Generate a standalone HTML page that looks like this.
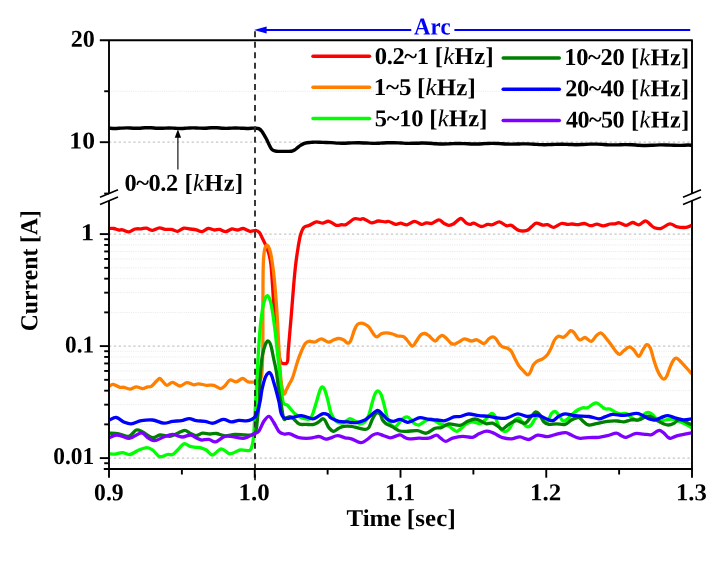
<!DOCTYPE html>
<html lang="en">
<head>
<meta charset="utf-8">
<title>Current vs Time</title>
<style>
html,body{margin:0;padding:0;background:#fff;}
body{width:727px;height:561px;overflow:hidden;}
svg{display:block;}
</style>
</head>
<body>
<svg width="727" height="561" viewBox="0 0 727 561">
<rect width="727" height="561" fill="#fff"/>
<g stroke="#e9e9e9" stroke-width="1" stroke-dasharray="1.1 1.1" fill="none">
<path d="M109.0,312.38H692.0"/>
<path d="M109.0,292.66H692.0"/>
<path d="M109.0,278.67H692.0"/>
<path d="M109.0,267.82H692.0"/>
<path d="M109.0,258.95H692.0"/>
<path d="M109.0,251.45H692.0"/>
<path d="M109.0,244.95H692.0"/>
<path d="M109.0,239.22H692.0"/>
<path d="M109.0,424.38H692.0"/>
<path d="M109.0,404.66H692.0"/>
<path d="M109.0,390.67H692.0"/>
<path d="M109.0,379.82H692.0"/>
<path d="M109.0,370.95H692.0"/>
<path d="M109.0,363.45H692.0"/>
<path d="M109.0,356.95H692.0"/>
<path d="M109.0,351.22H692.0"/>
<path d="M109.0,463.22H692.0"/>
<path d="M109.0,91.25H692.0"/>
</g>
<g stroke="#c6c6c6" stroke-width="1.3" stroke-dasharray="2.3 2.56" fill="none">
<path d="M109.0,142.20H692.0"/>
<path d="M109.0,234.10H692.0"/>
<path d="M109.0,346.10H692.0"/>
<path d="M109.0,458.10H692.0"/>
</g>
<g fill="none" stroke-linejoin="round" stroke-linecap="butt">
<path d="M109.00,128.23C110.00,128.27 113.00,128.51 115.00,128.50C117.00,128.49 119.00,128.25 121.00,128.16C123.00,128.06 125.00,127.91 127.00,127.92C129.00,127.92 131.00,128.14 133.00,128.19C135.00,128.23 137.00,128.25 139.00,128.19C141.00,128.12 143.00,127.84 145.00,127.78C147.00,127.71 149.00,127.73 151.00,127.81C153.00,127.89 155.00,128.18 157.00,128.25C159.00,128.31 161.00,128.26 163.00,128.22C165.00,128.17 167.00,127.96 169.00,127.96C171.00,127.96 173.00,128.12 175.00,128.21C177.00,128.30 179.00,128.50 181.00,128.49C183.00,128.48 185.00,128.27 187.00,128.16C189.00,128.06 191.00,127.87 193.00,127.86C195.00,127.85 197.00,128.05 199.00,128.11C201.00,128.16 203.00,128.23 205.00,128.18C207.00,128.13 209.00,127.87 211.00,127.81C213.00,127.75 215.00,127.74 217.00,127.81C219.00,127.89 221.00,128.19 223.00,128.27C225.00,128.35 227.00,128.34 229.00,128.30C231.00,128.25 233.00,128.02 235.00,128.00C237.00,127.98 239.00,128.10 241.00,128.18C243.00,128.25 245.00,128.47 247.00,128.46C249.00,128.46 251.67,128.20 253.00,128.16C254.33,128.11 254.03,128.13 255.00,128.20C255.97,128.27 257.63,128.05 258.80,128.60C259.97,129.15 260.75,129.80 262.00,131.50C263.25,133.20 265.13,136.62 266.30,138.80C267.47,140.98 268.17,142.93 269.00,144.60C269.83,146.27 270.53,147.80 271.30,148.80C272.07,149.80 272.77,150.18 273.60,150.60C274.43,151.02 275.23,151.17 276.30,151.30C277.37,151.43 278.38,151.38 280.00,151.40C281.62,151.42 284.12,151.42 286.00,151.40C287.88,151.38 289.88,151.53 291.30,151.30C292.72,151.07 293.45,150.62 294.50,150.00C295.55,149.38 296.60,148.37 297.60,147.60C298.60,146.83 299.47,146.07 300.50,145.40C301.53,144.73 302.72,144.05 303.80,143.60C304.88,143.15 305.80,142.90 307.00,142.70C308.20,142.50 309.67,142.50 311.00,142.40C312.33,142.30 313.00,142.10 315.00,142.10C317.00,142.10 320.33,142.32 323.00,142.40C325.67,142.48 328.50,142.48 331.00,142.60C333.50,142.72 335.67,143.04 338.00,143.14C340.33,143.24 342.67,143.23 345.00,143.19C347.33,143.15 349.67,142.96 352.00,142.90C354.33,142.83 356.67,142.76 359.00,142.79C361.33,142.82 363.67,142.98 366.00,143.07C368.33,143.16 370.67,143.32 373.00,143.33C375.33,143.35 377.67,143.25 380.00,143.16C382.33,143.07 384.67,142.84 387.00,142.77C389.33,142.69 391.67,142.66 394.00,142.71C396.33,142.76 398.67,142.96 401.00,143.07C403.33,143.18 405.67,143.34 408.00,143.38C410.33,143.41 412.67,143.33 415.00,143.28C417.33,143.23 419.67,143.08 422.00,143.07C424.33,143.06 426.67,143.12 429.00,143.23C431.33,143.33 433.67,143.59 436.00,143.71C438.33,143.84 440.67,143.97 443.00,143.99C445.33,144.00 447.67,143.87 450.00,143.79C452.33,143.71 454.67,143.54 457.00,143.51C459.33,143.47 461.67,143.53 464.00,143.60C466.33,143.67 468.67,143.86 471.00,143.93C473.33,143.99 475.67,144.03 478.00,143.99C480.33,143.94 482.67,143.75 485.00,143.65C487.33,143.55 489.67,143.39 492.00,143.38C494.33,143.37 496.67,143.48 499.00,143.58C501.33,143.69 503.67,143.92 506.00,144.01C508.33,144.11 510.67,144.15 513.00,144.14C515.33,144.13 517.67,143.97 520.00,143.93C522.33,143.88 524.67,143.81 527.00,143.86C529.33,143.92 531.67,144.10 534.00,144.23C536.33,144.36 538.67,144.59 541.00,144.66C543.33,144.73 545.67,144.72 548.00,144.67C550.33,144.61 552.67,144.41 555.00,144.33C557.33,144.25 559.67,144.17 562.00,144.19C564.33,144.21 566.67,144.36 569.00,144.45C571.33,144.53 573.67,144.68 576.00,144.70C578.33,144.71 580.67,144.62 583.00,144.54C585.33,144.45 587.67,144.24 590.00,144.17C592.33,144.11 594.67,144.09 597.00,144.15C599.33,144.21 601.67,144.43 604.00,144.56C606.33,144.68 608.67,144.86 611.00,144.90C613.33,144.95 615.67,144.88 618.00,144.83C620.33,144.78 622.67,144.63 625.00,144.62C627.33,144.62 629.67,144.67 632.00,144.77C634.33,144.87 636.67,145.11 639.00,145.23C641.33,145.35 643.67,145.47 646.00,145.46C648.33,145.46 650.67,145.32 653.00,145.23C655.33,145.13 657.67,144.95 660.00,144.90C662.33,144.86 664.67,144.91 667.00,144.97C669.33,145.04 671.67,145.23 674.00,145.29C676.33,145.36 678.67,145.40 681.00,145.36C683.33,145.32 686.17,145.06 688.00,145.05C689.83,145.04 691.33,145.26 692.00,145.30" stroke="#000" stroke-width="3.4"/>
<path d="M109.40,228.50C110.13,228.50 112.23,228.25 113.80,228.50C115.37,228.75 117.35,229.78 118.80,230.00C120.25,230.22 120.83,229.48 122.50,229.80C124.17,230.12 126.72,232.03 128.80,231.90C130.88,231.77 132.92,229.52 135.00,229.00C137.08,228.48 139.42,228.93 141.30,228.80C143.18,228.67 144.42,227.95 146.30,228.20C148.18,228.45 150.42,230.37 152.60,230.30C154.78,230.23 157.32,227.95 159.40,227.80C161.48,227.65 163.12,229.13 165.10,229.40C167.08,229.67 169.22,229.08 171.30,229.40C173.38,229.72 175.50,231.50 177.60,231.30C179.70,231.10 181.82,228.58 183.90,228.20C185.98,227.82 188.03,228.73 190.10,229.00C192.17,229.27 194.33,229.37 196.30,229.80C198.27,230.23 199.92,231.82 201.90,231.60C203.88,231.38 206.12,228.77 208.20,228.50C210.28,228.23 212.53,229.85 214.40,230.00C216.27,230.15 217.52,229.13 219.40,229.40C221.28,229.67 223.62,231.67 225.70,231.60C227.78,231.53 229.92,229.27 231.90,229.00C233.88,228.73 235.72,230.08 237.60,230.00C239.48,229.92 241.12,228.28 243.20,228.50C245.28,228.72 248.02,231.00 250.10,231.30C252.18,231.60 254.13,230.08 255.70,230.30C257.27,230.52 258.35,231.18 259.50,232.60C260.65,234.02 261.57,236.72 262.60,238.80C263.63,240.88 264.65,242.60 265.70,245.10C266.75,247.60 268.02,250.48 268.90,253.80C269.78,257.12 270.40,259.80 271.00,265.00C271.60,270.20 272.03,278.33 272.50,285.00C272.97,291.67 273.22,297.50 273.80,305.00C274.38,312.50 275.22,322.17 276.00,330.00C276.78,337.83 277.75,346.75 278.50,352.00C279.25,357.25 279.83,359.62 280.50,361.50C281.17,363.38 281.50,363.00 282.50,363.30C283.50,363.60 285.62,363.85 286.50,363.30C287.38,362.75 287.50,362.22 287.80,360.00C288.10,357.78 287.75,357.08 288.30,350.00C288.85,342.92 290.20,328.33 291.10,317.50C292.00,306.67 292.95,293.73 293.70,285.00C294.45,276.27 294.87,271.35 295.60,265.10C296.33,258.85 297.28,252.52 298.10,247.50C298.92,242.48 299.55,238.33 300.50,235.00C301.45,231.67 302.42,229.07 303.80,227.50C305.18,225.93 306.72,226.53 308.80,225.60C310.88,224.67 314.00,222.32 316.30,221.90C318.60,221.48 320.52,223.20 322.60,223.10C324.68,223.00 326.52,220.93 328.80,221.30C331.08,221.67 334.22,224.73 336.30,225.30C338.38,225.87 339.63,224.85 341.30,224.70C342.97,224.55 344.12,225.38 346.30,224.40C348.48,223.42 352.12,219.63 354.40,218.80C356.68,217.97 358.43,219.40 360.00,219.40C361.57,219.40 361.92,218.23 363.80,218.80C365.68,219.37 368.90,222.43 371.30,222.80C373.70,223.17 375.90,221.15 378.20,221.00C380.50,220.85 383.33,221.82 385.10,221.90C386.87,221.98 387.03,221.08 388.80,221.50C390.57,221.92 393.72,224.12 395.70,224.40C397.68,224.68 398.82,223.13 400.70,223.20C402.58,223.27 404.72,225.12 407.00,224.80C409.28,224.48 412.02,221.37 414.40,221.30C416.78,221.23 419.32,224.15 421.30,224.40C423.28,224.65 424.53,222.97 426.30,222.80C428.07,222.63 429.82,223.90 431.90,223.40C433.98,222.90 436.82,219.83 438.80,219.80C440.78,219.77 442.13,222.27 443.80,223.20C445.47,224.13 447.13,225.30 448.80,225.40C450.47,225.50 451.82,224.95 453.80,223.80C455.78,222.65 458.62,218.60 460.70,218.50C462.78,218.40 464.73,222.22 466.30,223.20C467.87,224.18 468.85,224.40 470.10,224.40C471.35,224.40 471.93,222.85 473.80,223.20C475.67,223.55 479.00,226.30 481.30,226.50C483.60,226.70 485.72,224.70 487.60,224.40C489.48,224.10 490.63,225.12 492.60,224.70C494.57,224.28 497.12,221.73 499.40,221.90C501.68,222.07 504.32,225.12 506.30,225.70C508.28,226.28 509.22,224.62 511.30,225.40C513.38,226.18 516.20,229.57 518.80,230.40C521.40,231.23 524.82,230.98 526.90,230.40C528.98,229.82 529.73,228.10 531.30,226.90C532.87,225.70 534.42,223.52 536.30,223.20C538.18,222.88 540.72,224.75 542.60,225.00C544.48,225.25 545.73,224.32 547.60,224.70C549.47,225.08 551.52,227.50 553.80,227.30C556.08,227.10 559.00,223.98 561.30,223.50C563.60,223.02 565.72,224.32 567.60,224.40C569.48,224.48 570.93,223.95 572.60,224.00C574.27,224.05 575.63,224.78 577.60,224.70C579.57,224.62 582.23,223.33 584.40,223.50C586.57,223.67 588.52,225.58 590.60,225.70C592.68,225.82 594.80,224.17 596.90,224.20C599.00,224.23 601.02,225.93 603.20,225.90C605.38,225.87 608.03,224.35 610.00,224.00C611.97,223.65 613.43,224.00 615.00,223.80C616.57,223.60 617.52,222.55 619.40,222.80C621.28,223.05 624.10,225.35 626.30,225.30C628.50,225.25 630.52,222.58 632.60,222.50C634.68,222.42 636.65,225.08 638.80,224.80C640.95,224.52 643.62,220.87 645.50,220.80C647.38,220.73 648.60,223.23 650.10,224.40C651.60,225.57 652.65,227.13 654.50,227.80C656.35,228.47 658.65,229.07 661.20,228.40C663.75,227.73 667.12,224.05 669.80,223.80C672.48,223.55 674.58,226.32 677.30,226.90C680.02,227.48 683.70,227.57 686.10,227.30C688.50,227.03 690.77,225.63 691.70,225.30" stroke="#ff0000" stroke-width="3.3"/>
<path d="M109.40,386.30C110.02,385.98 111.33,384.23 113.10,384.40C114.87,384.57 118.22,386.82 120.00,387.30C121.78,387.78 122.13,387.00 123.80,387.30C125.47,387.60 127.92,389.17 130.00,389.10C132.08,389.03 134.20,386.98 136.30,386.90C138.40,386.82 140.72,388.60 142.60,388.60C144.48,388.60 146.15,387.28 147.60,386.90C149.05,386.52 149.85,387.23 151.30,386.30C152.75,385.37 154.88,382.60 156.30,381.30C157.72,380.00 158.65,378.40 159.80,378.50C160.95,378.60 162.00,380.77 163.20,381.90C164.40,383.03 165.43,385.23 167.00,385.30C168.57,385.37 170.42,382.18 172.60,382.30C174.78,382.42 177.72,385.95 180.10,386.00C182.48,386.05 184.62,382.80 186.90,382.60C189.18,382.40 191.82,384.60 193.80,384.80C195.78,385.00 196.72,383.72 198.80,383.80C200.88,383.88 203.80,385.05 206.30,385.30C208.80,385.55 211.40,384.75 213.80,385.30C216.20,385.85 218.83,388.53 220.70,388.60C222.57,388.67 223.45,387.13 225.00,385.70C226.55,384.27 228.12,380.63 230.00,380.00C231.88,379.37 234.20,382.15 236.30,381.90C238.40,381.65 240.62,378.50 242.60,378.50C244.58,378.50 246.22,381.32 248.20,381.90C250.18,382.48 252.65,382.15 254.50,382.00C256.35,381.85 258.08,382.33 259.30,381.00C260.52,379.67 261.22,379.17 261.80,374.00C262.38,368.83 262.62,359.00 262.80,350.00C262.98,341.00 262.87,330.83 262.90,320.00C262.93,309.17 262.93,294.33 263.00,285.00C263.07,275.67 263.10,269.50 263.30,264.00C263.50,258.50 263.83,254.87 264.20,252.00C264.57,249.13 264.98,247.93 265.50,246.80C266.02,245.67 266.63,244.83 267.30,245.20C267.97,245.57 268.83,247.15 269.50,249.00C270.17,250.85 270.72,253.13 271.30,256.30C271.88,259.47 272.48,264.05 273.00,268.00C273.52,271.95 273.75,272.78 274.40,280.00C275.05,287.22 276.13,299.63 276.90,311.30C277.67,322.97 278.32,338.55 279.00,350.00C279.68,361.45 280.20,372.70 281.00,380.00C281.80,387.30 282.88,392.22 283.80,393.80C284.72,395.38 285.67,390.97 286.50,389.50C287.33,388.03 287.78,386.98 288.80,385.00C289.82,383.02 291.13,381.55 292.60,377.60C294.07,373.65 296.15,365.65 297.60,361.30C299.05,356.95 300.05,354.42 301.30,351.50C302.55,348.58 303.85,345.50 305.10,343.80C306.35,342.10 307.13,341.60 308.80,341.30C310.47,341.00 313.00,342.42 315.10,342.00C317.20,341.58 319.17,338.77 321.40,338.80C323.63,338.83 326.43,342.03 328.50,342.20C330.57,342.37 332.08,340.42 333.80,339.80C335.52,339.18 337.13,338.47 338.80,338.50C340.47,338.53 342.35,339.22 343.80,340.00C345.25,340.78 346.35,343.08 347.50,343.20C348.65,343.32 349.55,342.90 350.70,340.70C351.85,338.50 353.27,332.72 354.40,330.00C355.53,327.28 356.35,325.55 357.50,324.40C358.65,323.25 360.03,323.10 361.30,323.10C362.57,323.10 363.85,323.77 365.10,324.40C366.35,325.03 367.35,325.23 368.80,326.90C370.25,328.57 372.43,332.73 373.80,334.40C375.17,336.07 375.75,337.00 377.00,336.90C378.25,336.80 379.75,334.47 381.30,333.80C382.85,333.13 384.42,332.87 386.30,332.90C388.18,332.93 390.72,333.48 392.60,334.00C394.48,334.52 395.83,335.58 397.60,336.00C399.37,336.42 401.63,335.83 403.20,336.50C404.77,337.17 405.50,338.38 407.00,340.00C408.50,341.62 410.65,345.98 412.20,346.20C413.75,346.42 414.90,343.17 416.30,341.30C417.70,339.43 419.18,336.30 420.60,335.00C422.02,333.70 423.43,333.38 424.80,333.50C426.17,333.62 427.10,334.45 428.80,335.70C430.50,336.95 433.33,340.70 435.00,341.00C436.67,341.30 437.58,338.45 438.80,337.50C440.02,336.55 441.05,335.18 442.30,335.30C443.55,335.42 444.80,336.83 446.30,338.20C447.80,339.57 449.83,342.53 451.30,343.50C452.77,344.47 453.63,344.37 455.10,344.00C456.57,343.63 458.53,342.17 460.10,341.30C461.67,340.43 462.63,338.85 464.50,338.80C466.37,338.75 469.22,340.83 471.30,341.00C473.38,341.17 474.90,339.38 477.00,339.80C479.10,340.22 481.92,343.67 483.90,343.50C485.88,343.33 487.45,339.90 488.90,338.80C490.35,337.70 491.42,336.90 492.60,336.90C493.78,336.90 494.97,337.75 496.00,338.80C497.03,339.85 497.72,341.85 498.80,343.20C499.88,344.55 501.05,346.07 502.50,346.90C503.95,347.73 506.03,347.47 507.50,348.20C508.97,348.93 510.05,349.53 511.30,351.30C512.55,353.07 513.75,356.40 515.00,358.80C516.25,361.20 517.33,363.62 518.80,365.70C520.27,367.78 522.30,369.78 523.80,371.30C525.30,372.82 526.65,374.80 527.80,374.80C528.95,374.80 529.80,372.92 530.70,371.30C531.60,369.68 532.17,366.77 533.20,365.10C534.23,363.43 535.33,362.35 536.90,361.30C538.47,360.25 540.82,359.95 542.60,358.80C544.38,357.65 546.15,356.27 547.60,354.40C549.05,352.53 550.15,350.00 551.30,347.60C552.45,345.20 553.35,341.88 554.50,340.00C555.65,338.12 556.75,336.75 558.20,336.30C559.65,335.85 561.73,337.62 563.20,337.30C564.67,336.98 565.75,335.50 567.00,334.40C568.25,333.30 569.55,331.02 570.70,330.70C571.85,330.38 572.43,330.98 573.90,332.50C575.37,334.02 577.65,338.97 579.50,339.80C581.35,340.63 583.03,337.25 585.00,337.50C586.97,337.75 589.42,341.60 591.30,341.30C593.18,341.00 594.73,337.10 596.30,335.70C597.87,334.30 599.25,332.70 600.70,332.90C602.15,333.10 603.23,334.88 605.00,336.90C606.77,338.92 609.42,342.50 611.30,345.00C613.18,347.50 614.88,350.33 616.30,351.90C617.72,353.47 618.55,354.60 619.80,354.40C621.05,354.20 622.20,351.95 623.80,350.70C625.40,349.45 627.73,347.02 629.40,346.90C631.07,346.78 632.23,348.43 633.80,350.00C635.37,351.57 637.30,356.30 638.80,356.30C640.30,356.30 641.50,351.95 642.80,350.00C644.10,348.05 645.35,344.93 646.60,344.60C647.85,344.27 649.15,345.63 650.30,348.00C651.45,350.37 652.33,355.13 653.50,358.80C654.67,362.47 656.05,366.98 657.30,370.00C658.55,373.02 659.92,375.38 661.00,376.90C662.08,378.42 662.85,379.20 663.80,379.10C664.75,379.00 665.60,378.43 666.70,376.30C667.80,374.17 669.25,369.02 670.40,366.30C671.55,363.58 672.62,361.35 673.60,360.00C674.58,358.65 675.27,358.08 676.30,358.20C677.33,358.32 678.17,359.15 679.80,360.70C681.43,362.25 684.12,365.32 686.10,367.50C688.08,369.68 690.77,372.75 691.70,373.80" stroke="#ff8000" stroke-width="3.3"/>
<path d="M109.40,453.80C110.33,453.85 112.82,454.30 115.00,454.10C117.18,453.90 120.00,452.53 122.50,452.60C125.00,452.67 127.28,454.93 130.00,454.50C132.72,454.07 135.97,451.15 138.80,450.00C141.63,448.85 144.70,447.60 147.00,447.60C149.30,447.60 150.63,448.55 152.60,450.00C154.57,451.45 157.13,455.25 158.80,456.30C160.47,457.35 161.13,456.60 162.60,456.30C164.07,456.00 165.93,454.80 167.60,454.50C169.27,454.20 170.93,455.25 172.60,454.50C174.27,453.75 175.72,451.78 177.60,450.00C179.48,448.22 181.82,444.42 183.90,443.80C185.98,443.18 188.08,445.70 190.10,446.30C192.12,446.90 194.35,447.18 196.00,447.40C197.65,447.62 198.28,447.17 200.00,447.60C201.72,448.03 204.22,448.77 206.30,450.00C208.38,451.23 210.00,455.20 212.50,455.00C215.00,454.80 218.38,449.00 221.30,448.80C224.22,448.60 226.88,453.60 230.00,453.80C233.12,454.00 236.87,450.52 240.00,450.00C243.13,449.48 246.93,450.95 248.80,450.70C250.67,450.45 250.52,449.95 251.20,448.50C251.88,447.05 252.43,444.92 252.90,442.00C253.37,439.08 253.53,437.83 254.00,431.00C254.47,424.17 255.13,411.17 255.70,401.00C256.27,390.83 256.82,380.17 257.40,370.00C257.98,359.83 258.60,348.33 259.20,340.00C259.80,331.67 260.23,326.20 261.00,320.00C261.77,313.80 262.72,306.87 263.80,302.80C264.88,298.73 266.25,295.23 267.50,295.60C268.75,295.97 270.05,299.27 271.30,305.00C272.55,310.73 274.12,323.33 275.00,330.00C275.88,336.67 275.87,338.33 276.60,345.00C277.33,351.67 278.35,360.67 279.40,370.00C280.45,379.33 281.53,395.12 282.90,401.00C284.27,406.88 285.58,403.17 287.60,405.30C289.62,407.43 292.50,411.65 295.00,413.80C297.50,415.95 300.10,417.37 302.60,418.20C305.10,419.03 308.23,419.75 310.00,418.80C311.77,417.85 312.03,415.63 313.20,412.50C314.37,409.37 315.90,403.67 317.00,400.00C318.10,396.33 318.93,392.68 319.80,390.50C320.67,388.32 321.40,387.07 322.20,386.90C323.00,386.73 323.72,387.52 324.60,389.50C325.48,391.48 326.38,394.75 327.50,398.80C328.62,402.85 329.83,410.05 331.30,413.80C332.77,417.55 334.63,419.73 336.30,421.30C337.97,422.87 339.68,423.25 341.30,423.20C342.92,423.15 344.55,421.77 346.00,421.00C347.45,420.23 348.50,418.60 350.00,418.60C351.50,418.60 353.33,420.13 355.00,421.00C356.67,421.87 358.33,423.65 360.00,423.80C361.67,423.95 363.53,423.37 365.00,421.90C366.47,420.43 367.53,418.43 368.80,415.00C370.07,411.57 371.55,404.83 372.60,401.30C373.65,397.77 374.17,395.52 375.10,393.80C376.03,392.08 377.17,390.80 378.20,391.00C379.23,391.20 380.25,392.45 381.30,395.00C382.35,397.55 383.45,402.33 384.50,406.30C385.55,410.27 386.47,415.68 387.60,418.80C388.73,421.92 390.05,423.65 391.30,425.00C392.55,426.35 393.83,427.20 395.10,426.90C396.37,426.60 397.65,424.55 398.90,423.20C400.15,421.85 401.25,419.85 402.60,418.80C403.95,417.75 405.60,416.78 407.00,416.90C408.40,417.02 409.87,418.45 411.00,419.50C412.13,420.55 412.50,422.28 413.80,423.20C415.10,424.12 417.13,425.22 418.80,425.00C420.47,424.78 421.77,422.90 423.80,421.90C425.83,420.90 428.50,418.78 431.00,419.00C433.50,419.22 436.67,422.20 438.80,423.20C440.93,424.20 442.18,424.53 443.80,425.00C445.42,425.47 446.93,425.27 448.50,426.00C450.07,426.73 451.80,428.52 453.20,429.40C454.60,430.28 455.55,431.50 456.90,431.30C458.25,431.10 459.78,429.42 461.30,428.20C462.82,426.98 464.12,425.05 466.00,424.00C467.88,422.95 470.25,421.97 472.60,421.90C474.95,421.83 478.02,423.92 480.10,423.60C482.18,423.28 483.22,421.68 485.10,420.00C486.98,418.32 489.73,414.12 491.40,413.50C493.07,412.88 493.87,414.17 495.10,416.30C496.33,418.43 497.25,423.80 498.80,426.30C500.35,428.80 502.73,430.78 504.40,431.30C506.07,431.82 507.23,431.07 508.80,429.40C510.37,427.73 512.13,423.17 513.80,421.30C515.47,419.43 517.13,417.78 518.80,418.20C520.47,418.62 522.35,422.35 523.80,423.80C525.25,425.25 526.25,426.70 527.50,426.90C528.75,427.10 530.03,426.35 531.30,425.00C532.57,423.65 533.82,420.30 535.10,418.80C536.38,417.30 537.68,415.97 539.00,416.00C540.32,416.03 541.57,418.12 543.00,419.00C544.43,419.88 546.22,422.17 547.60,421.30C548.98,420.43 550.05,415.43 551.30,413.80C552.55,412.17 553.85,411.30 555.10,411.50C556.35,411.70 557.55,413.47 558.80,415.00C560.05,416.53 561.35,419.87 562.60,420.70C563.85,421.53 564.82,420.95 566.30,420.00C567.78,419.05 569.62,416.67 571.50,415.00C573.38,413.33 575.75,411.20 577.60,410.00C579.45,408.80 580.95,408.17 582.60,407.80C584.25,407.43 585.85,408.37 587.50,407.80C589.15,407.23 591.03,405.22 592.50,404.40C593.97,403.58 595.05,402.80 596.30,402.90C597.55,403.00 598.55,404.02 600.00,405.00C601.45,405.98 603.33,408.13 605.00,408.80C606.67,409.47 608.33,408.48 610.00,409.00C611.67,409.52 613.33,411.10 615.00,411.90C616.67,412.70 618.12,413.53 620.00,413.80C621.88,414.07 624.42,412.88 626.30,413.50C628.18,414.12 629.42,416.42 631.30,417.50C633.18,418.58 635.57,420.45 637.60,420.00C639.63,419.55 641.78,416.07 643.50,414.80C645.22,413.53 646.43,412.47 647.90,412.40C649.37,412.33 650.88,413.33 652.30,414.40C653.72,415.47 654.68,417.78 656.40,418.80C658.12,419.82 660.17,420.47 662.60,420.50C665.03,420.53 668.43,418.92 671.00,419.00C673.57,419.08 675.48,420.10 678.00,421.00C680.52,421.90 683.82,423.30 686.10,424.40C688.38,425.50 690.77,427.07 691.70,427.60" stroke="#00ff00" stroke-width="3.3"/>
<path d="M255,31.2V480.5" stroke="#303030" stroke-width="1.9" stroke-dasharray="6 4.55"/>
<path d="M109.40,433.20C110.97,433.30 115.57,433.28 118.80,433.80C122.03,434.32 125.88,436.93 128.80,436.30C131.72,435.67 134.00,430.72 136.30,430.00C138.60,429.28 139.88,430.73 142.60,432.00C145.32,433.27 149.70,437.10 152.60,437.60C155.50,438.10 157.10,435.22 160.00,435.00C162.90,434.78 167.07,436.60 170.00,436.30C172.93,436.00 175.15,434.20 177.60,433.20C180.05,432.20 182.63,430.30 184.70,430.30C186.77,430.30 188.12,432.30 190.00,433.20C191.88,434.10 193.92,435.70 196.00,435.70C198.08,435.70 200.17,433.48 202.50,433.20C204.83,432.92 207.70,433.95 210.00,434.00C212.30,434.05 213.80,433.20 216.30,433.50C218.80,433.80 221.88,435.65 225.00,435.80C228.12,435.95 231.67,434.53 235.00,434.40C238.33,434.27 242.17,434.93 245.00,435.00C247.83,435.07 250.33,435.10 252.00,434.80C253.67,434.50 254.25,434.33 255.00,433.20C255.75,432.07 256.08,430.53 256.50,428.00C256.92,425.47 257.08,421.83 257.50,418.00C257.92,414.17 258.63,409.67 259.00,405.00C259.37,400.33 259.48,395.00 259.70,390.00C259.92,385.00 259.87,380.67 260.30,375.00C260.73,369.33 261.48,361.03 262.30,356.00C263.12,350.97 264.22,347.30 265.20,344.80C266.18,342.30 267.23,340.80 268.20,341.00C269.17,341.20 270.12,343.17 271.00,346.00C271.88,348.83 272.62,353.78 273.50,358.00C274.38,362.22 275.38,365.63 276.30,371.30C277.22,376.97 278.17,386.38 279.00,392.00C279.83,397.62 280.50,400.53 281.30,405.00C282.10,409.47 282.85,416.70 283.80,418.80C284.75,420.90 285.75,417.92 287.00,417.60C288.25,417.28 289.33,415.87 291.30,416.90C293.27,417.93 296.30,422.55 298.80,423.80C301.30,425.05 303.80,424.30 306.30,424.40C308.80,424.50 311.77,424.80 313.80,424.40C315.83,424.00 317.03,422.93 318.50,422.00C319.97,421.07 321.48,419.03 322.60,418.80C323.72,418.57 324.17,419.13 325.20,420.60C326.23,422.07 327.37,425.82 328.80,427.60C330.23,429.38 332.13,431.20 333.80,431.30C335.47,431.40 337.13,429.03 338.80,428.20C340.47,427.37 341.72,426.62 343.80,426.30C345.88,425.98 348.80,425.98 351.30,426.30C353.80,426.62 356.52,427.68 358.80,428.20C361.08,428.72 363.33,429.50 365.00,429.40C366.67,429.30 367.53,429.37 368.80,427.60C370.07,425.83 371.35,421.20 372.60,418.80C373.85,416.40 375.07,414.03 376.30,413.20C377.53,412.37 378.95,412.67 380.00,413.80C381.05,414.93 381.55,418.33 382.60,420.00C383.65,421.67 384.63,422.65 386.30,423.80C387.97,424.95 390.50,425.75 392.60,426.90C394.70,428.05 396.60,429.97 398.90,430.70C401.20,431.43 403.30,431.30 406.40,431.30C409.50,431.30 414.18,430.38 417.50,430.70C420.82,431.02 423.38,433.62 426.30,433.20C429.22,432.78 432.50,429.13 435.00,428.20C437.50,427.27 439.00,428.30 441.30,427.60C443.60,426.90 445.68,424.38 448.80,424.00C451.92,423.62 456.87,425.75 460.00,425.30C463.13,424.85 465.08,422.35 467.60,421.30C470.12,420.25 472.82,419.00 475.10,419.00C477.38,419.00 479.42,420.50 481.30,421.30C483.18,422.10 484.52,423.48 486.40,423.80C488.28,424.12 490.53,422.68 492.60,423.20C494.67,423.72 497.15,425.92 498.80,426.90C500.45,427.88 500.83,429.52 502.50,429.10C504.17,428.68 506.50,425.80 508.80,424.40C511.10,423.00 513.60,420.90 516.30,420.70C519.00,420.50 522.50,423.93 525.00,423.20C527.50,422.47 529.52,418.18 531.30,416.30C533.08,414.42 534.35,412.22 535.70,411.90C537.05,411.58 538.05,412.73 539.40,414.40C540.75,416.07 542.23,420.23 543.80,421.90C545.37,423.57 546.72,424.08 548.80,424.40C550.88,424.72 553.58,423.80 556.30,423.80C559.02,423.80 562.58,425.03 565.10,424.40C567.62,423.77 569.32,421.15 571.40,420.00C573.48,418.85 576.08,417.73 577.60,417.50C579.12,417.27 579.47,417.87 580.50,418.60C581.53,419.33 582.42,420.83 583.80,421.90C585.18,422.97 586.72,424.72 588.80,425.00C590.88,425.28 593.18,424.22 596.30,423.60C599.42,422.98 603.95,421.73 607.50,421.30C611.05,420.87 614.88,420.90 617.60,421.00C620.32,421.10 621.52,422.10 623.80,421.90C626.08,421.70 628.80,420.12 631.30,419.80C633.80,419.48 636.50,420.48 638.80,420.00C641.10,419.52 643.22,417.52 645.10,416.90C646.98,416.28 648.02,415.67 650.10,416.30C652.18,416.93 655.28,419.42 657.60,420.70C659.92,421.98 662.18,423.28 664.00,424.00C665.82,424.72 666.90,425.08 668.50,425.00C670.10,424.92 671.92,424.33 673.60,423.50C675.28,422.67 676.87,420.42 678.60,420.00C680.33,419.58 682.33,420.42 684.00,421.00C685.67,421.58 687.32,422.93 688.60,423.50C689.88,424.07 691.18,424.25 691.70,424.40" stroke="#008000" stroke-width="3.3"/>
<path d="M109.40,420.00C110.55,419.58 113.90,417.18 116.30,417.50C118.70,417.82 121.30,420.85 123.80,421.90C126.30,422.95 128.38,424.00 131.30,423.80C134.22,423.60 137.75,421.33 141.30,420.70C144.85,420.07 148.85,419.58 152.60,420.00C156.35,420.42 160.47,422.98 163.80,423.20C167.13,423.42 169.67,421.72 172.60,421.30C175.53,420.88 178.63,421.15 181.40,420.70C184.17,420.25 186.72,418.60 189.20,418.60C191.68,418.60 193.67,420.25 196.30,420.70C198.93,421.15 202.18,420.88 205.00,421.30C207.82,421.72 210.17,423.52 213.20,423.20C216.23,422.88 220.18,419.62 223.20,419.40C226.22,419.18 228.70,421.75 231.30,421.90C233.90,422.05 236.30,420.48 238.80,420.30C241.30,420.12 244.10,420.98 246.30,420.80C248.50,420.62 250.42,420.03 252.00,419.20C253.58,418.37 254.77,417.50 255.80,415.80C256.83,414.10 257.47,411.47 258.20,409.00C258.93,406.53 259.57,404.25 260.20,401.00C260.83,397.75 261.15,393.45 262.00,389.50C262.85,385.55 264.20,380.10 265.30,377.30C266.40,374.50 267.62,373.17 268.60,372.70C269.58,372.23 270.33,372.85 271.20,374.50C272.07,376.15 272.92,379.68 273.80,382.60C274.68,385.52 275.63,388.77 276.50,392.00C277.37,395.23 278.20,398.37 279.00,402.00C279.80,405.63 280.30,411.10 281.30,413.80C282.30,416.50 283.12,417.58 285.00,418.20C286.88,418.82 289.88,417.93 292.60,417.50C295.32,417.07 297.97,415.38 301.30,415.60C304.63,415.82 309.82,418.65 312.60,418.80C315.38,418.95 316.23,417.37 318.00,416.50C319.77,415.63 321.53,413.88 323.20,413.60C324.87,413.32 326.65,414.03 328.00,414.80C329.35,415.57 329.50,417.12 331.30,418.20C333.10,419.28 336.10,420.68 338.80,421.30C341.50,421.92 344.58,421.68 347.50,421.90C350.42,422.12 353.38,422.92 356.30,422.60C359.22,422.28 362.50,421.27 365.00,420.00C367.50,418.73 369.20,416.62 371.30,415.00C373.40,413.38 375.72,410.40 377.60,410.30C379.48,410.20 380.93,412.88 382.60,414.40C384.27,415.92 385.83,418.25 387.60,419.40C389.37,420.55 391.12,421.30 393.20,421.30C395.28,421.30 397.70,419.23 400.10,419.40C402.50,419.57 405.45,422.10 407.60,422.30C409.75,422.50 410.93,421.38 413.00,420.60C415.07,419.82 417.37,417.80 420.00,417.60C422.63,417.40 425.88,419.00 428.80,419.40C431.72,419.80 434.80,419.78 437.50,420.00C440.20,420.22 442.28,421.22 445.00,420.70C447.72,420.18 451.30,417.60 453.80,416.90C456.30,416.20 457.50,416.98 460.00,416.50C462.50,416.02 465.67,414.13 468.80,414.00C471.93,413.87 475.45,415.32 478.80,415.70C482.15,416.08 485.87,415.95 488.90,416.30C491.93,416.65 494.10,417.48 497.00,417.80C499.90,418.12 502.88,418.87 506.30,418.20C509.72,417.53 513.97,414.08 517.50,413.80C521.03,413.52 524.15,416.30 527.50,416.50C530.85,416.70 534.67,414.72 537.60,415.00C540.53,415.28 542.60,417.25 545.10,418.20C547.60,419.15 550.32,421.02 552.60,420.70C554.88,420.38 556.72,417.45 558.80,416.30C560.88,415.15 562.38,413.90 565.10,413.80C567.82,413.70 571.15,415.25 575.10,415.70C579.05,416.15 584.85,415.98 588.80,416.50C592.75,417.02 596.10,418.73 598.80,418.80C601.50,418.87 602.72,417.63 605.00,416.90C607.28,416.17 609.37,414.67 612.50,414.40C615.63,414.13 619.83,415.47 623.80,415.30C627.77,415.13 633.20,413.40 636.30,413.40C639.40,413.40 640.25,414.37 642.40,415.30C644.55,416.23 647.10,418.22 649.20,419.00C651.30,419.78 653.00,420.25 655.00,420.00C657.00,419.75 659.03,418.22 661.20,417.50C663.37,416.78 665.52,415.58 668.00,415.70C670.48,415.82 673.50,417.52 676.10,418.20C678.70,418.88 681.00,419.70 683.60,419.80C686.20,419.90 690.35,418.97 691.70,418.80" stroke="#0000ff" stroke-width="3.3"/>
<path d="M109.40,437.60C110.55,437.17 114.12,435.22 116.30,435.00C118.48,434.78 120.22,435.77 122.50,436.30C124.78,436.83 126.87,438.78 130.00,438.20C133.13,437.62 138.37,432.90 141.30,432.80C144.23,432.70 145.42,436.28 147.60,437.60C149.78,438.92 151.70,440.80 154.40,440.70C157.10,440.60 160.77,438.05 163.80,437.00C166.83,435.95 169.57,434.40 172.60,434.40C175.63,434.40 179.02,436.90 182.00,437.00C184.98,437.10 188.17,434.87 190.50,435.00C192.83,435.13 194.20,436.97 196.00,437.80C197.80,438.63 199.17,439.73 201.30,440.00C203.43,440.27 206.40,439.08 208.80,439.40C211.20,439.72 213.00,442.42 215.70,441.90C218.40,441.38 221.98,437.13 225.00,436.30C228.02,435.47 230.55,436.58 233.80,436.90C237.05,437.22 241.17,438.72 244.50,438.20C247.83,437.68 251.42,434.95 253.80,433.80C256.18,432.65 257.13,433.38 258.80,431.30C260.47,429.22 262.10,423.80 263.80,421.30C265.50,418.80 267.33,416.10 269.00,416.30C270.67,416.50 272.17,420.00 273.80,422.50C275.43,425.00 277.13,429.38 278.80,431.30C280.47,433.22 281.93,433.58 283.80,434.00C285.67,434.42 287.50,433.20 290.00,433.80C292.50,434.40 295.47,436.87 298.80,437.60C302.13,438.33 306.65,438.38 310.00,438.20C313.35,438.02 316.32,436.37 318.90,436.50C321.48,436.63 323.65,438.72 325.50,439.00C327.35,439.28 328.00,438.75 330.00,438.20C332.00,437.65 335.00,435.77 337.50,435.70C340.00,435.63 342.70,437.28 345.00,437.80C347.30,438.32 348.68,438.00 351.30,438.80C353.92,439.60 358.20,442.38 360.70,442.60C363.20,442.82 364.32,441.35 366.30,440.10C368.28,438.85 370.72,436.18 372.60,435.10C374.48,434.02 375.73,433.50 377.60,433.60C379.47,433.70 381.72,435.00 383.80,435.70C385.88,436.40 388.22,437.70 390.10,437.80C391.98,437.90 393.43,436.80 395.10,436.30C396.77,435.80 398.43,434.58 400.10,434.80C401.77,435.02 403.53,436.93 405.10,437.60C406.67,438.27 407.22,438.70 409.50,438.80C411.78,438.90 415.58,438.30 418.80,438.20C422.02,438.10 425.88,438.72 428.80,438.20C431.72,437.68 434.32,435.10 436.30,435.10C438.28,435.10 439.13,437.17 440.70,438.20C442.27,439.23 443.72,441.30 445.70,441.30C447.68,441.30 449.78,439.03 452.60,438.20C455.42,437.37 459.27,436.45 462.60,436.30C465.93,436.15 469.90,437.72 472.60,437.30C475.30,436.88 476.50,434.83 478.80,433.80C481.10,432.77 484.10,431.30 486.40,431.10C488.70,430.90 490.75,431.92 492.60,432.60C494.45,433.28 495.85,434.37 497.50,435.20C499.15,436.03 500.20,437.00 502.50,437.60C504.80,438.20 508.38,438.92 511.30,438.80C514.22,438.68 517.08,436.78 520.00,436.90C522.92,437.02 525.87,439.80 528.80,439.50C531.73,439.20 534.47,435.58 537.60,435.10C540.73,434.62 544.27,436.82 547.60,436.60C550.93,436.38 554.58,434.47 557.60,433.80C560.62,433.13 563.40,432.38 565.70,432.60C568.00,432.82 569.20,434.17 571.40,435.10C573.60,436.03 576.00,437.78 578.90,438.20C581.80,438.62 585.48,437.75 588.80,437.60C592.12,437.45 595.68,437.62 598.80,437.30C601.92,436.98 604.58,436.38 607.50,435.70C610.42,435.02 614.00,433.20 616.30,433.20C618.60,433.20 619.63,435.02 621.30,435.70C622.97,436.38 624.00,437.65 626.30,437.30C628.60,436.95 632.23,434.13 635.10,433.60C637.97,433.07 640.85,433.90 643.50,434.10C646.15,434.30 648.92,435.17 651.00,434.80C653.08,434.43 654.55,432.65 656.00,431.90C657.45,431.15 658.43,430.15 659.70,430.30C660.97,430.45 662.33,431.73 663.60,432.80C664.87,433.87 666.13,435.78 667.30,436.70C668.47,437.62 669.13,438.40 670.60,438.30C672.07,438.20 673.93,436.75 676.10,436.10C678.27,435.45 681.00,434.93 683.60,434.40C686.20,433.87 690.35,433.15 691.70,432.90" stroke="#8000ff" stroke-width="3.3"/>
</g>
<g stroke="#000" stroke-width="1.9" fill="none" stroke-linecap="butt">
<path d="M99.8,40.3H692.8"/>
<path d="M103.8,469.0H692.8"/>
<path d="M109.0,40.3V193.1"/>
<path d="M109.0,201.1V477.7"/>
<path d="M692.0,40.3V193.1"/>
<path d="M692.0,201.1V469.8"/>
<path stroke-width="1.6" d="M100.0,197.3L118.0,189.7"/>
<path stroke-width="1.6" d="M100.0,204.6L118.0,197.0"/>
<path stroke-width="1.6" d="M683.0,197.3L701.0,189.7"/>
<path stroke-width="1.6" d="M683.0,204.6L701.0,197.0"/>
<path d="M99.8,142.20H109.0"/>
<path d="M99.8,234.10H109.0"/>
<path d="M99.8,346.10H109.0"/>
<path d="M99.8,458.10H109.0"/>
<path d="M104.2,312.38H109.0"/>
<path d="M104.2,292.66H109.0"/>
<path d="M104.2,278.67H109.0"/>
<path d="M104.2,267.82H109.0"/>
<path d="M104.2,258.95H109.0"/>
<path d="M104.2,251.45H109.0"/>
<path d="M104.2,244.95H109.0"/>
<path d="M104.2,239.22H109.0"/>
<path d="M104.2,424.38H109.0"/>
<path d="M104.2,404.66H109.0"/>
<path d="M104.2,390.67H109.0"/>
<path d="M104.2,379.82H109.0"/>
<path d="M104.2,370.95H109.0"/>
<path d="M104.2,363.45H109.0"/>
<path d="M104.2,356.95H109.0"/>
<path d="M104.2,351.22H109.0"/>
<path d="M104.2,463.22H109.0"/>
<path d="M104.2,91.25H109.0"/>
<path d="M104.2,193.55H109.0"/>
<path d="M254.75,469.0V477.7"/>
<path d="M400.50,469.0V477.7"/>
<path d="M546.25,469.0V477.7"/>
<path d="M692.00,469.0V477.7"/>
<path d="M181.88,469.0V474.5"/>
<path d="M327.62,469.0V474.5"/>
<path d="M473.38,469.0V474.5"/>
<path d="M619.12,469.0V474.5"/>
</g>
<g stroke="#0000ff" stroke-width="1.8" fill="none">
<path d="M266,30H411.3"/>
<path d="M454.4,30H690.2"/>
</g>
<path d="M254.0,30L266.6,26.5V33.5Z" fill="#0000ff"/>
<path d="M177.9,169.5V136.5" stroke="#000" stroke-width="1.1" fill="none"/>
<path d="M177.9,129.2L174.7,137.8H181.1Z" fill="#000"/>
<g fill="none" stroke-width="3.5" stroke-linecap="round">
<path d="M313,56.20H369.5" stroke="#ff0000"/>
<path d="M313,87.35H369.5" stroke="#ff8000"/>
<path d="M313,118.50H369.5" stroke="#00ff00"/>
<path d="M503.2,58.00H559.3" stroke="#008000"/>
<path d="M503.2,89.25H559.3" stroke="#0000ff"/>
<path d="M503.2,120.50H559.3" stroke="#8000ff"/>
</g>
<g font-family="'Liberation Serif', serif" font-weight="bold" font-size="24.1" fill="#000" style="font-kerning:none;text-rendering:geometricPrecision">
<text transform="translate(70.79,46.70) matrix(1.0013,0.0005,0,1,0,0)" font-size="24.10">20</text>
<text transform="translate(69.35,148.60) matrix(1.0634,0.0005,0,1,0,0)" font-size="24.10">10</text>
<text transform="translate(80.85,240.30) matrix(1.1158,0.0005,0,1,0,0)" font-size="24.10">1</text>
<text transform="translate(65.01,352.40) matrix(0.9657,0.0005,0,1,0,0)" font-size="24.10">0.1</text>
<text transform="translate(53.21,464.00) matrix(0.9698,0.0005,0,1,0,0)" font-size="24.10">0.01</text>
<text transform="translate(94.10,500.30) matrix(0.9811,0.0005,0,1,0,0)" font-size="24.10">0.9</text>
<text transform="translate(238.55,500.30) matrix(1.0338,0.0005,0,1,0,0)" font-size="24.10">1.0</text>
<text transform="translate(384.97,500.30) matrix(1.0019,0.0005,0,1,0,0)" font-size="24.10">1.1</text>
<text transform="translate(530.10,500.30) matrix(1.0346,0.0005,0,1,0,0)" font-size="24.10">1.2</text>
<text transform="translate(675.93,500.30) matrix(1.0230,0.0005,0,1,0,0)" font-size="24.10">1.3</text>
<text transform="translate(346.51,526.00) matrix(1.0331,0.0005,0,1,0,0)" font-size="24.10"><tspan x="0" letter-spacing="-0.284">Time</tspan> <tspan x="58.22" letter-spacing="0.175">[sec]</tspan></text>
<text transform="translate(37.30,331.15) rotate(-90) matrix(0.9653,0.0005,0,1,0,0)" font-size="24.40">Current [A]</text>
<text transform="translate(414.08,34.60) matrix(0.9430,0.0005,0,1,0,0)" font-size="24.10" fill="#0000ff">Arc</text>
<text transform="translate(124.47,190.80) matrix(1.0127,0.0005,0,1,0,0)" font-size="24.10"><tspan x="0" letter-spacing="-0.401">0~0.2</tspan> <tspan x="59.27" letter-spacing="0.400">[<tspan font-style="italic" font-weight="normal">k</tspan>Hz]</tspan></text>
<text transform="translate(374.86,63.90) matrix(1.0213,0.0005,0,1,0,0)" font-size="24.10"><tspan x="0" letter-spacing="-0.407">0.2~1</tspan> <tspan x="58.56" letter-spacing="0.408">[<tspan font-style="italic" font-weight="normal">k</tspan>Hz]</tspan></text>
<text transform="translate(373.80,95.10) matrix(1.0366,0.0005,0,1,0,0)" font-size="24.10"><tspan x="0" letter-spacing="-0.173">1~5</tspan> <tspan x="41.72" letter-spacing="0.135">[<tspan font-style="italic" font-weight="normal">k</tspan>Hz]</tspan></text>
<text transform="translate(374.82,126.30) matrix(1.0169,0.0005,0,1,0,0)" font-size="24.10"><tspan x="0" letter-spacing="-0.291">5~10</tspan> <tspan x="53.56" letter-spacing="0.246">[<tspan font-style="italic" font-weight="normal">k</tspan>Hz]</tspan></text>
<text transform="translate(564.34,65.10) matrix(1.0156,0.0005,0,1,0,0)" font-size="24.10"><tspan x="0" letter-spacing="-0.342">10~20</tspan> <tspan x="65.52" letter-spacing="0.311">[<tspan font-style="italic" font-weight="normal">k</tspan>Hz]</tspan></text>
<text transform="translate(565.28,96.20) matrix(1.0079,0.0005,0,1,0,0)" font-size="24.10"><tspan x="0" letter-spacing="-0.463">20~40</tspan> <tspan x="65.10" letter-spacing="0.414">[<tspan font-style="italic" font-weight="normal">k</tspan>Hz]</tspan></text>
<text transform="translate(565.97,127.40) matrix(1.0023,0.0005,0,1,0,0)" font-size="24.10"><tspan x="0" letter-spacing="-0.554">40~50</tspan> <tspan x="64.79" letter-spacing="0.490">[<tspan font-style="italic" font-weight="normal">k</tspan>Hz]</tspan></text>
</g>
</svg>
</body>
</html>
